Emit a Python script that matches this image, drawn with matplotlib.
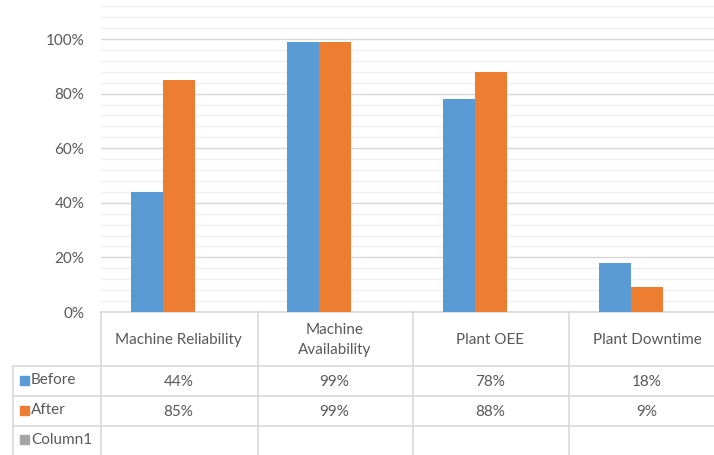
import matplotlib.pyplot as plt
from matplotlib.ticker import MultipleLocator, FuncFormatter

categories = ["Machine Reliability", "Machine\nAvailability", "Plant OEE", "Plant Downtime"]
before = [44, 99, 78, 18]
after = [85, 99, 88, 9]
series_names = ["Before", "After", "Column1"]
series_colors = ["#5B9BD5", "#ED7D31", "#A5A5A5"]

W, H = 714, 455
plt.rcParams['font.family'] = ['Lato', 'DejaVu Sans']
txt = "#595959"
grid_major = "#d9d9d9"
grid_minor = "#f0f0f0"
fs = 11

fig = plt.figure(figsize=(W / 100, H / 100), dpi=100)

# plot area in pixels: left 101, bottom at y=312, runs off top and right edge
x0, ybot = 101, 312
ax = fig.add_axes([x0 / W, (H - ybot) / H, (W - x0) / W, ybot / H])
ax.patch.set_visible(False)

step = 156  # px per category
first = 163  # px centre of first group
xs = list(range(len(categories)))
ax.set_xlim(-(first - x0) / step, (W - first) / step)
ax.set_ylim(0, ybot / 2.73)

bw = 32 / step
ax.bar([x - bw / 2 for x in xs], before, width=bw, color=series_colors[0], zorder=3)
ax.bar([x + bw / 2 for x in xs], after, width=bw, color=series_colors[1], zorder=3)

ax.yaxis.set_major_locator(MultipleLocator(20))
ax.yaxis.set_minor_locator(MultipleLocator(4))
ax.yaxis.set_major_formatter(FuncFormatter(lambda v, p: f"{v:.0f}%" if v <= 100 else ""))
ax.grid(axis='y', which='major', color=grid_major, lw=1, zorder=0)
ax.grid(axis='y', which='minor', color=grid_minor, lw=1, zorder=0)
ax.tick_params(axis='y', which='both', length=0, pad=12, labelsize=fs, labelcolor=txt)
ax.tick_params(axis='x', length=0, labelbottom=False)
for s in ax.spines.values():
    s.set_visible(False)

# data table drawn underneath in pixel coordinates
tb = fig.add_axes([0, 0, 1, 1], zorder=-1)
tb.set_xlim(0, W)
tb.set_ylim(H, 0)
tb.axis('off')

cols = [101, 258, 413, 569, W]
rows = [312, 366, 396, 426, H]
lc = "#d9d9d9"
tb.plot([x0, W], [312, 312], color=lc, lw=1.2)
for r in rows[1:-1]:
    tb.plot([13, W], [r, r], color=lc, lw=1.2)
for c in cols[:-1]:
    tb.plot([c, c], [312, H], color=lc, lw=1.2)
tb.plot([13, 13], [366, H], color=lc, lw=1.2)

for i, cat in enumerate(categories):
    cx = (cols[i] + cols[i + 1] - 2) / 2 if i < 3 else 647
    tb.text(cx, 340, cat, ha='center', va='center', fontsize=fs, color=txt, linespacing=1.55)
    tb.text(cx, 382, f"{before[i]}%", ha='center', va='center', fontsize=fs, color=txt)
    tb.text(cx, 412, f"{after[i]}%", ha='center', va='center', fontsize=fs, color=txt)

for j, (name, col) in enumerate(zip(series_names, series_colors)):
    yc = (rows[j + 1] + rows[j + 2]) / 2 - 1
    tb.add_patch(plt.Rectangle((19.5, yc - 4.5), 9, 9, color=col))
    tb.text(31, yc, name, ha='left', va='center', fontsize=fs, color=txt)

fig.savefig("out.png", dpi=100)
